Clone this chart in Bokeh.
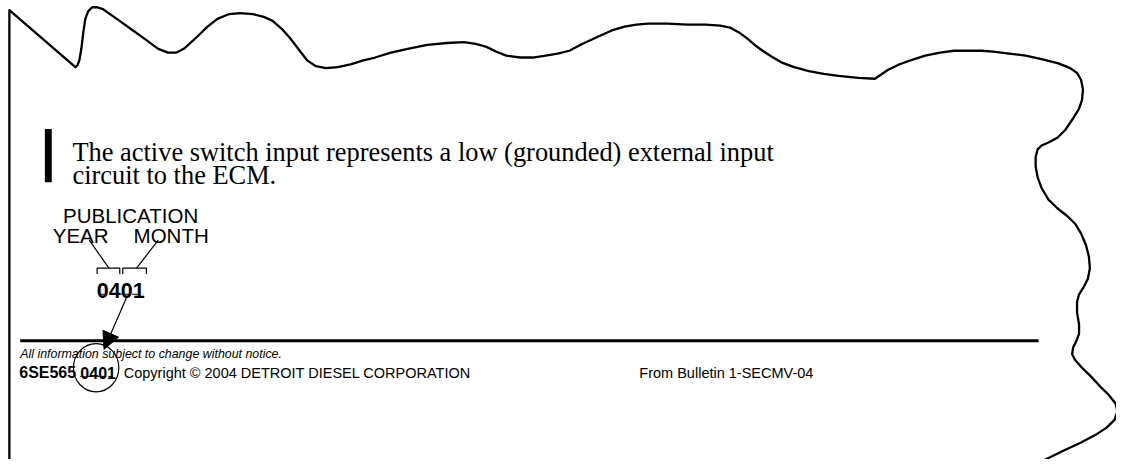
from bokeh.plotting import figure
from bokeh.models import Range1d, Arrow, NormalHead, ColumnDataSource
from bokeh.core.properties import value
from bokeh.embed import file_html
from bokeh.resources import INLINE

# ---------------- data (reference page coordinates, y downward) ----------------
outline_x = [9, 9, 76, 78, 80, 82, 84, 86, 89, 93, 98, 104, 118, 133, 148, 160, 170, 178, 186, 200,
             210, 220, 232, 243, 256, 267, 276, 285, 293, 302, 311, 320, 330, 342, 355, 368, 380, 396,
             413, 433, 453, 470, 482, 493, 503, 513, 527, 540, 553, 565, 577, 590, 607, 620, 633, 645,
             657, 677, 697, 715, 730, 740, 749, 757, 765, 773, 782, 792, 805, 820, 835, 850, 870, 887,
             900, 912, 923, 938, 953, 967, 980, 995, 1007, 1023, 1040, 1057, 1073, 1085, 1092, 1096,
             1098, 1097, 1094, 1088, 1080, 1072, 1063, 1056, 1052, 1050, 1050, 1052, 1056, 1063, 1072,
             1082, 1090, 1096, 1101, 1104, 1105, 1103, 1099, 1094, 1092, 1092, 1094, 1094, 1091, 1088,
             1087, 1090, 1097, 1106, 1115, 1124, 1131, 1133, 1130, 1122, 1110, 1095, 1078, 1060, 1050]
outline_y = [480, 10, 69, 67, 62, 50, 33, 19, 11, 7, 7, 9, 19, 30, 41, 50, 54, 54, 50, 37,
             27, 19, 14, 13, 14, 17, 21, 29, 38, 50, 62, 68, 70, 69, 66, 62, 59, 54,
             50, 46, 44, 43, 45, 48, 53, 57, 59, 59, 57, 55, 52, 45, 37, 31, 27, 25,
             24, 24, 25, 25, 26, 28, 33, 39, 46, 52, 58, 64, 69, 73, 76, 78, 80, 81,
             72, 66, 62, 57, 54, 52, 52, 52, 53, 55, 57, 61, 65, 70, 75, 82,
             92, 103, 112, 122, 134, 142, 147, 150, 154, 162, 172, 183, 194, 206, 215,
             223, 231, 241, 253, 265, 277, 288, 296, 304, 312, 323, 335, 345, 353, 359,
             366, 372, 380, 389, 399, 408, 417, 425, 434, 442, 450, 458, 466, 475, 480]

body_lines = ["The active switch input represents a low (grounded) external input",
              "circuit to the ECM."]
body_x = [73, 73]
body_y = [157, 181]

bar_left, bar_right, bar_top, bar_bottom = 45, 52, 133, 188

pub_labels = ["PUBLICATION", "YEAR", "MONTH"]
pub_x = [132, 53, 135]
pub_y = [222, 243, 243]
pub_align = ["center", "left", "left"]

code_text = "0401"
code_x, code_y = 122, 300

leader_xs = [[90, 110], [160, 138]]
leader_ys = [[248, 277], [248, 277]]
bracket_xs = [[98, 98, 121, 121], [124, 124, 148, 148]]
bracket_ys = [[283, 277, 277, 283], [283, 277, 277, 283]]
dash_x = [100, 145]
dash_y = [304, 304]

arrow_start = (128, 307)
arrow_end = (105, 361)

rule_x = [20, 1053]
rule_y = [352, 352]

notice_text = "All information subject to change without notice."
notice_x, notice_y = 20, 366

part_text = "6SE565"
part_x, part_y = 19, 385
foot_code_x, foot_code_y = 81, 385
foot_dash_x = [81, 114]
foot_dash_y = [389, 389]
circle_x, circle_y, circle_w, circle_h = 97, 380, 46, 50

copyright_text = "Copyright \u00a9 2004 DETROIT DIESEL CORPORATION"
copyright_x, copyright_y = 125, 385
bulletin_text = "From Bulletin 1-SECMV-04"
bulletin_x, bulletin_y = 648, 385

# ---------------- figure ----------------
p = figure(width=1116, height=459, x_range=Range1d(0, 1132), y_range=Range1d(475, 0),
           output_backend="svg", toolbar_location=None, min_border=0,
           x_axis_type=None, y_axis_type=None)
p.grid.visible = False
p.outline_line_color = None
p.background_fill_color = "white"
p.border_fill_color = "white"

p.line(outline_x, outline_y, line_color="black", line_width=2.3, line_join="round")

p.quad(left=[bar_left], right=[bar_right], top=[bar_top], bottom=[bar_bottom],
       fill_color="black", line_color=None)

p.text(body_x, body_y, text=body_lines, text_font=value("Liberation Serif"),
       text_font_size="26.4px", text_baseline="alphabetic", text_align="left", text_color="black")

src = ColumnDataSource(dict(x=pub_x, y=pub_y, t=pub_labels, a=pub_align))
p.text("x", "y", text="t", text_align="a", source=src, text_font=value("Liberation Sans"),
       text_font_size="20.5px", text_baseline="alphabetic", text_color="black")

p.text([code_x], [code_y], text=[code_text], text_font=value("Liberation Sans"),
       text_font_style="bold", text_font_size="21.5px", text_align="center",
       text_baseline="alphabetic", text_color="black")

p.multi_line(leader_xs, leader_ys, line_color="black", line_width=1.2)
p.multi_line(bracket_xs, bracket_ys, line_color="black", line_width=1.2)
p.line(dash_x, dash_y, line_color="black", line_width=1.2, line_dash="8 3")

p.add_layout(Arrow(end=NormalHead(size=17, fill_color="black", line_color="black"),
                   x_start=arrow_start[0], y_start=arrow_start[1],
                   x_end=arrow_end[0], y_end=arrow_end[1], line_width=1.2, line_color="black"))

p.line(rule_x, rule_y, line_color="black", line_width=3)

p.text([notice_x], [notice_y], text=[notice_text], text_font=value("Liberation Sans"),
       text_font_style="italic", text_font_size="12.4px", text_baseline="alphabetic",
       text_color="black")

p.text([part_x, foot_code_x], [part_y, foot_code_y], text=[part_text, code_text],
       text_font=value("Liberation Sans"), text_font_style="bold", text_font_size="16px",
       text_baseline="alphabetic", text_color="black")
p.line(foot_dash_x, foot_dash_y, line_color="black", line_width=1, line_dash="5 2")
p.ellipse([circle_x], [circle_y], width=circle_w, height=circle_h, fill_color=None,
          line_color="black", line_width=1.2)

p.text([copyright_x, bulletin_x], [copyright_y, bulletin_y], text=[copyright_text, bulletin_text],
       text_font=value("Liberation Sans"), text_font_size="14.5px", text_baseline="alphabetic",
       text_color="black")

open("out.html", "w").write(file_html(p, INLINE))
